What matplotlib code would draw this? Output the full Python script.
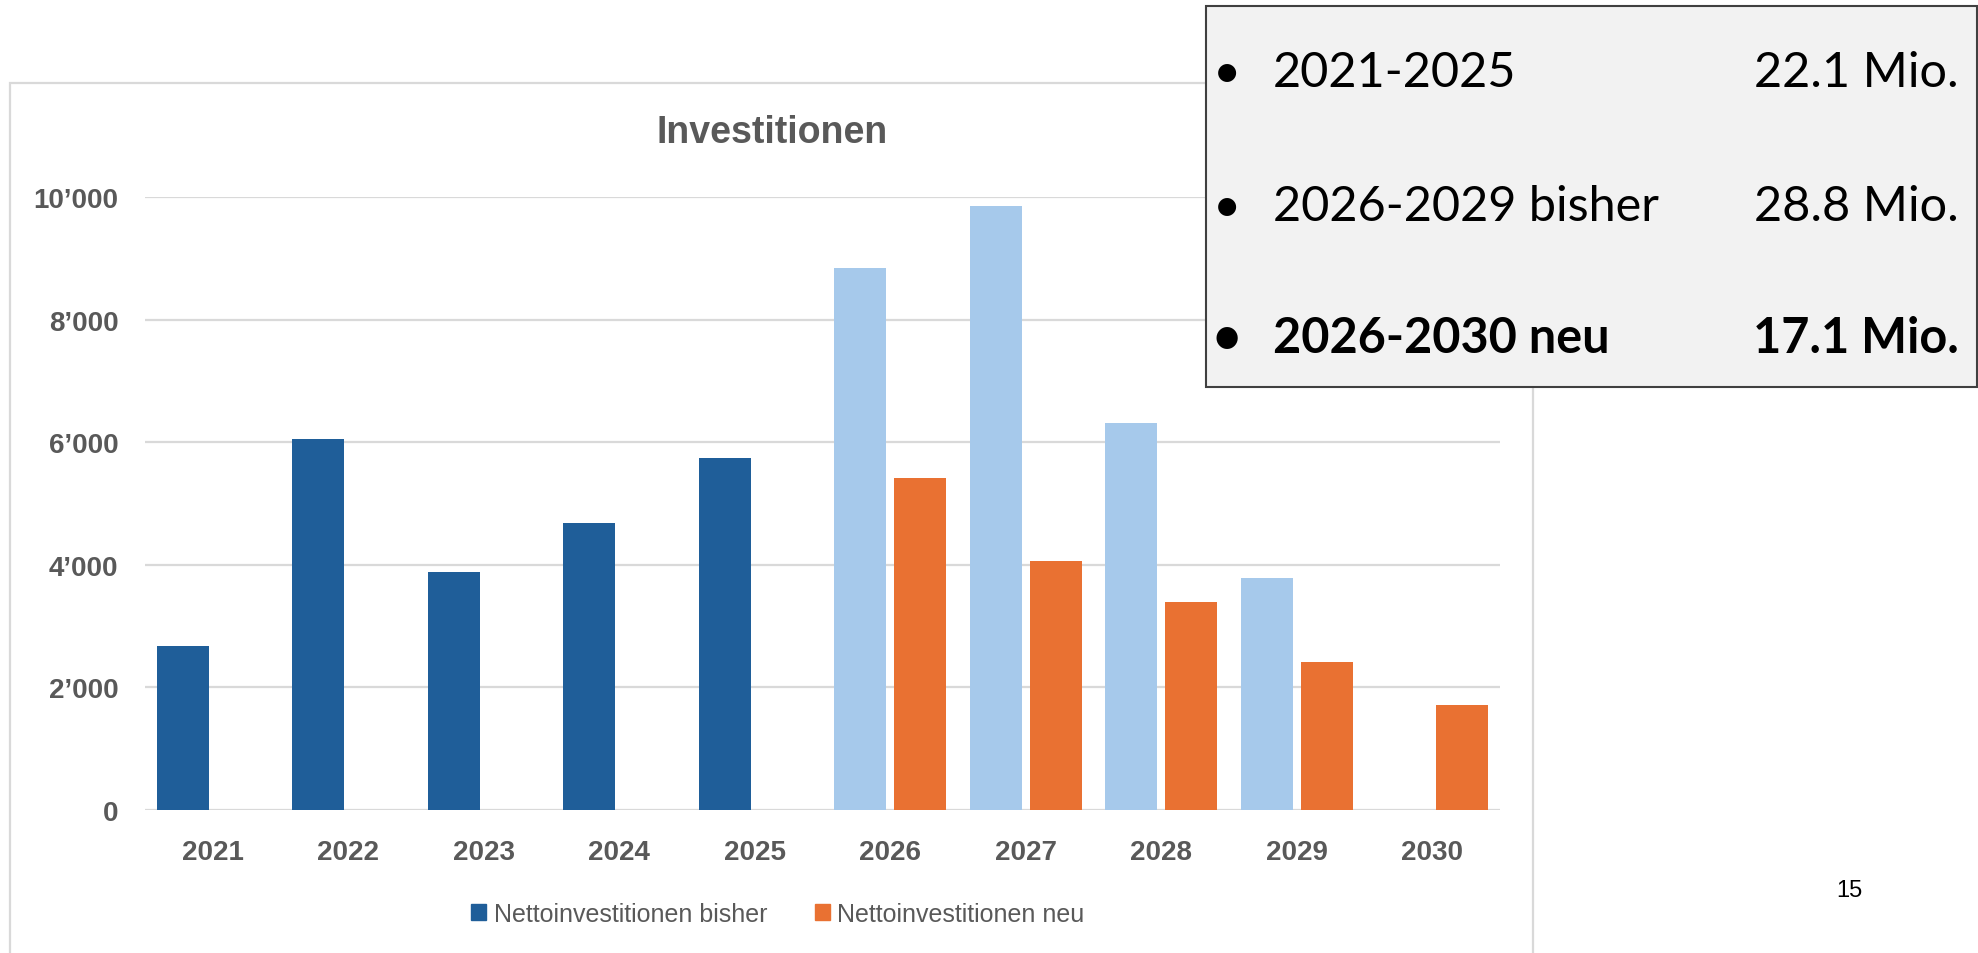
import matplotlib
matplotlib.use('Agg')
import matplotlib.pyplot as plt
from matplotlib.patches import Rectangle
import numpy as np

# ---- data ----
years = ['2021', '2022', '2023', '2024', '2025', '2026', '2027', '2028', '2029', '2030']
bisher = [2680, 6050, 3880, 4680, 5740, 8840, 9850, 6320, 3780, 0]
neu = [0, 0, 0, 0, 0, 5420, 4070, 3400, 2410, 1720]
bisher_colors = ['#1F5E99'] * 5 + ['#A6C9EB'] * 5
neu_color = '#E97132'
yticks = [0, 2000, 4000, 6000, 8000, 10000]
ytick_labels = ['0', '2\u2019000', '4\u2019000', '6\u2019000', '8\u2019000', '10\u2019000']
title = 'Investitionen'
legend_labels = ['Nettoinvestitionen bisher', 'Nettoinvestitionen neu']
summary_labels = ['2021-2025', '2026-2029 bisher', '2026-2030 neu']
summary_values = ['22.1 Mio.', '28.8 Mio.', '17.1 Mio.']
summary_bold = [False, False, True]
page_number = '15'

W, H = 1978, 954
fig = plt.figure(figsize=(W / 100, H / 100), dpi=100)
fig.patch.set_facecolor('white')

def fx(px):
    return px / W

def fy(py):
    return 1 - py / H

gray_txt = '#595959'
grid_col = '#D9D9D9'
chart_font = ['Liberation Sans', 'DejaVu Sans']

ax = fig.add_axes([fx(145), fy(811), fx(1500) - fx(145), fy(198) - fy(811)])
ax.set_facecolor('none')

x = np.arange(len(years))
bw = 0.384
off = 0.222
ax.bar(x - off, bisher, width=bw, color=bisher_colors, zorder=3)
ax.bar(x + off, neu, width=bw, color=neu_color, zorder=3)

ax.set_xlim(-0.5, len(years) - 0.5)
ax.set_ylim(0, 10000)
ax.set_yticks(yticks)
ax.set_yticklabels(ytick_labels, fontsize=20, fontweight='bold', color=gray_txt, family=chart_font)
ax.set_xticks(x)
ax.set_xticklabels(years, fontsize=20, fontweight='bold', color=gray_txt, family=chart_font)
ax.tick_params(axis='y', length=0, pad=19)
ax.tick_params(axis='x', length=0, pad=21)
for s in ax.spines.values():
    s.set_visible(False)
ax.grid(axis='y', color=grid_col, linewidth=1.6, zorder=0)
ax.set_axisbelow(True)

fig.text(fx(772), fy(133), title, ha='center', va='center', fontsize=27,
         fontweight='bold', color=gray_txt, family=chart_font)

handles = [Rectangle((0, 0), 1, 1, color=bisher_colors[0]), Rectangle((0, 0), 1, 1, color=neu_color)]
leg = fig.legend(handles, legend_labels, loc='center', bbox_to_anchor=(fx(778), fy(915)),
                 ncol=2, frameon=False, handlelength=0.6, handleheight=0.6,
                 handletextpad=0.3, columnspacing=1.9,
                 prop={'family': chart_font, 'size': 18})
for t in leg.get_texts():
    t.set_color(gray_txt)

# chart frame
frame = Rectangle((fx(10), -0.1), fx(1533) - fx(10), fy(84) + 0.1, transform=fig.transFigure,
                  fill=False, edgecolor=grid_col, linewidth=1.6, zorder=1)
fig.patches.append(frame)

# summary box
box = Rectangle((fx(1206), fy(388)), fx(1977) - fx(1206), fy(7) - fy(388), transform=fig.transFigure,
                facecolor='#F2F2F2', edgecolor='#404040', linewidth=1.5, zorder=5)
fig.patches.append(box)

box_font = ['Lato', 'DejaVu Sans']
baselines = [87, 221, 353]
for lab, val, b, yb in zip(summary_labels, summary_values, summary_bold, baselines):
    w = 'bold' if b else 'normal'
    fig.text(fx(1227), fy(yb), '\u2022', ha='center', va='baseline', fontsize=35,
             fontweight=w, color='black', family=box_font, zorder=6)
    fig.text(fx(1273), fy(yb), lab, ha='left', va='baseline', fontsize=35,
             fontweight=w, color='black', family=box_font, zorder=6)
    fig.text(fx(1959), fy(yb), val, ha='right', va='baseline', fontsize=35,
             fontweight=w, color='black', family=box_font, zorder=6)

fig.text(fx(1849), fy(897), page_number, ha='center', va='baseline', fontsize=17,
         color='black', family=chart_font)

fig.savefig('out.png', dpi=100)
